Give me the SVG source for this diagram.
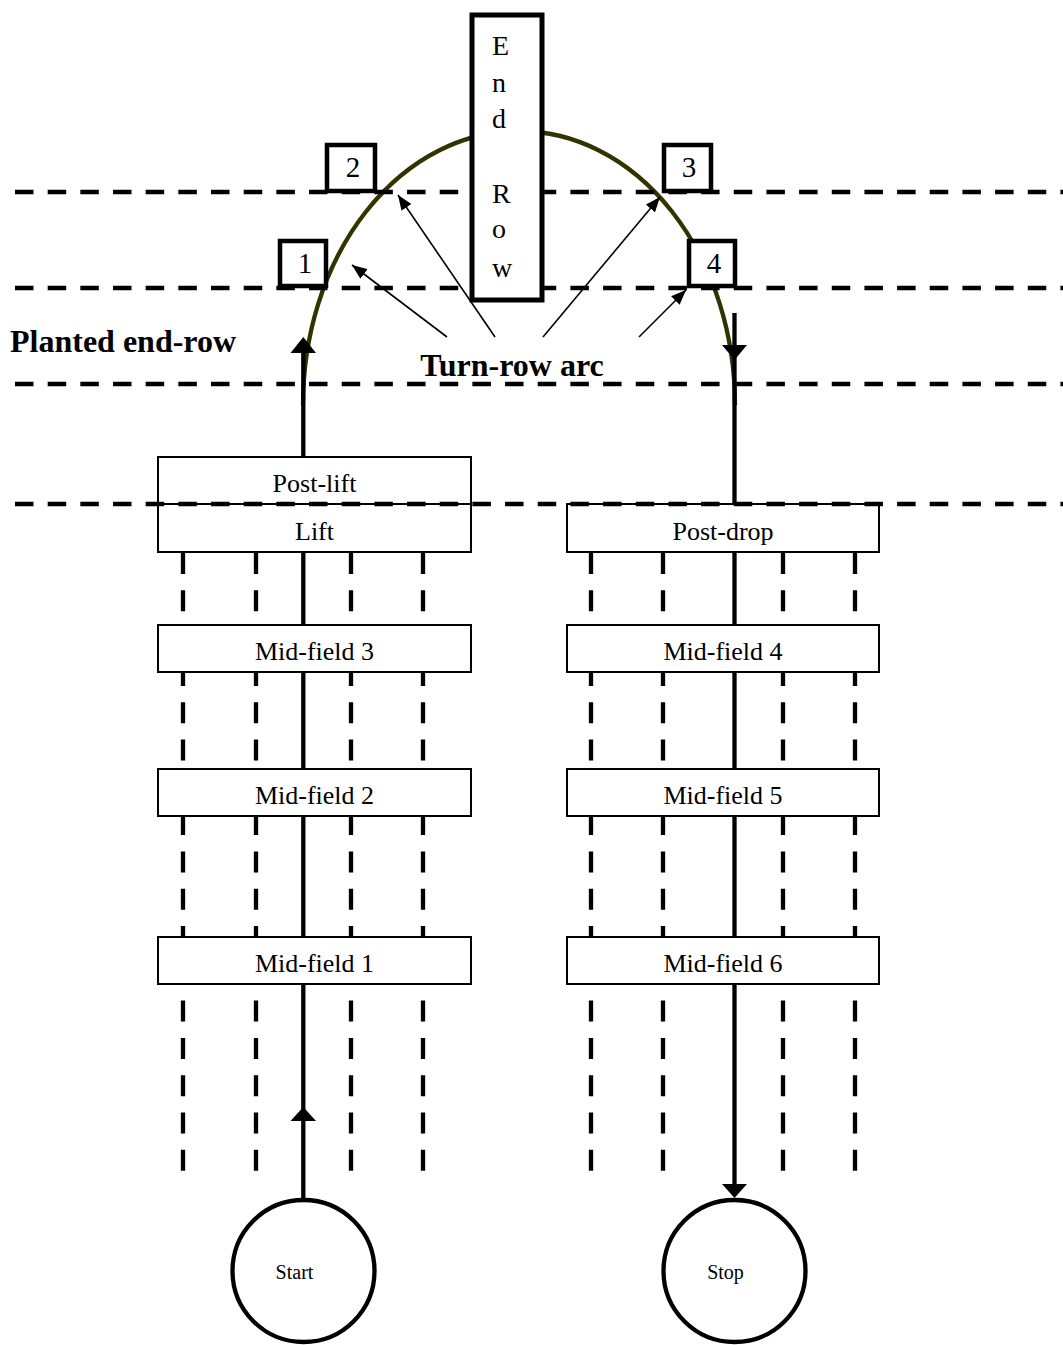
<svg xmlns="http://www.w3.org/2000/svg" width="1063" height="1345" viewBox="0 0 1063 1345">
<style>
.vd{stroke:#000;stroke-width:4.3;stroke-dasharray:21 16.3;fill:none}
.hd{stroke:#000;stroke-width:4.3;stroke-dasharray:18.5 14.17;fill:none}
.box{fill:#fff;stroke:#000;stroke-width:2}
.nbox{fill:#fff;stroke:#000;stroke-width:4.5}
.main{stroke:#000;stroke-width:4.3;fill:none}
.head{fill:#000}
.ptr{stroke:#000;stroke-width:1.6;fill:none;marker-end:url(#ah)}
.arc{stroke:#333300;stroke-width:4.3;fill:none}
.lbl{font-family:"Liberation Serif","Times New Roman",serif;font-size:26px;fill:#000;text-anchor:middle}
.num{font-family:"Liberation Serif","Times New Roman",serif;font-size:29px;fill:#000;text-anchor:middle}
.er{font-family:"Liberation Serif","Times New Roman",serif;font-size:28px;fill:#000}
.big{font-family:"Liberation Serif","Times New Roman",serif;font-size:32px;font-weight:bold;fill:#000}
.small{font-family:"Liberation Serif","Times New Roman",serif;font-size:20px;fill:#000;text-anchor:middle}
</style>
<defs>
<marker id="ah" markerUnits="userSpaceOnUse" markerWidth="16" markerHeight="12" refX="15" refY="6" orient="auto">
<path d="M0,0 L15,6 L0,12 z" fill="#000"/>
</marker>
</defs>
<rect width="1063" height="1345" fill="#fff"/>
<g id="field-rows">
<line class="vd" x1="183" y1="553" x2="183" y2="1172"/>
<line class="vd" x1="256" y1="553" x2="256" y2="1172"/>
<line class="vd" x1="351" y1="553" x2="351" y2="1172"/>
<line class="vd" x1="423" y1="553" x2="423" y2="1172"/>
<line class="vd" x1="591" y1="553" x2="591" y2="1172"/>
<line class="vd" x1="663" y1="553" x2="663" y2="1172"/>
<line class="vd" x1="783" y1="553" x2="783" y2="1172"/>
<line class="vd" x1="855" y1="553" x2="855" y2="1172"/>
</g>
<g id="connectors">
<path class="arc" d="M303,405 A216,274 0 0 1 735,405"/>
<line class="main" x1="303.3" y1="1199" x2="303.3" y2="350"/>
<polygon class="head" points="303.3,337 290.5,353 316,353"/>
<polygon class="head" points="303.3,1107 290.5,1121 316,1121"/>
<line class="main" x1="734.5" y1="313" x2="734.5" y2="1186"/>
<polygon class="head" points="734.5,360 722,345 747,345"/>
<polygon class="head" points="734.5,1198 722,1184 747,1184"/>
<line class="ptr" x1="447" y1="337" x2="352" y2="265"/>
<line class="ptr" x1="495" y1="337" x2="398" y2="195"/>
<line class="ptr" x1="543" y1="337" x2="660" y2="197"/>
<line class="ptr" x1="639" y1="337" x2="686" y2="290"/>
</g>
<g id="post-lift"><rect class="box" x="158" y="457" width="313" height="47"/><text class="lbl" x="314.5" y="491.5">Post-lift</text></g>
<g id="lift"><rect class="box" x="158" y="504" width="313" height="48"/><text class="lbl" x="314.5" y="540">Lift</text></g>
<g id="mid-field-3"><rect class="box" x="158" y="625" width="313" height="47"/><text class="lbl" x="314.5" y="660">Mid-field 3</text></g>
<g id="mid-field-2"><rect class="box" x="158" y="769" width="313" height="47"/><text class="lbl" x="314.5" y="804">Mid-field 2</text></g>
<g id="mid-field-1"><rect class="box" x="158" y="937" width="313" height="47"/><text class="lbl" x="314.5" y="972">Mid-field 1</text></g>
<g id="post-drop"><rect class="box" x="567" y="504" width="312" height="48"/><text class="lbl" x="723" y="540">Post-drop</text></g>
<g id="mid-field-4"><rect class="box" x="567" y="625" width="312" height="47"/><text class="lbl" x="723" y="660">Mid-field 4</text></g>
<g id="mid-field-5"><rect class="box" x="567" y="769" width="312" height="47"/><text class="lbl" x="723" y="804">Mid-field 5</text></g>
<g id="mid-field-6"><rect class="box" x="567" y="937" width="312" height="47"/><text class="lbl" x="723" y="972">Mid-field 6</text></g>
<g id="start"><circle cx="303.5" cy="1271" r="71" fill="#fff" stroke="#000" stroke-width="4.3"/><text class="small" x="294.5" y="1279">Start</text></g>
<g id="stop"><circle cx="734.5" cy="1271" r="71" fill="#fff" stroke="#000" stroke-width="4.3"/><text class="small" x="725.5" y="1279">Stop</text></g>
<g id="headland-lines">
<line class="hd" x1="15" y1="192" x2="1063" y2="192"/>
<line class="hd" x1="15" y1="288" x2="1063" y2="288"/>
<line class="hd" x1="15" y1="384" x2="1063" y2="384"/>
<line class="hd" x1="15" y1="504" x2="1063" y2="504"/>
</g>
<g id="end-row"><rect x="472" y="15" width="70" height="285" fill="#fff" stroke="#000" stroke-width="5"/>
<text class="er" x="492" y="55">E</text>
<text class="er" x="492" y="92">n</text>
<text class="er" x="492" y="128">d</text>
<text class="er" x="492" y="203">R</text>
<text class="er" x="492" y="238">o</text>
<text class="er" x="492" y="277">w</text>
</g>
<g id="point-1"><rect class="nbox" x="280" y="241" width="46" height="45"/><text class="num" x="305" y="273">1</text></g>
<g id="point-2"><rect class="nbox" x="327" y="145" width="48" height="46"/><text class="num" x="353" y="177">2</text></g>
<g id="point-3"><rect class="nbox" x="664" y="145" width="47" height="46"/><text class="num" x="689" y="177">3</text></g>
<g id="point-4"><rect class="nbox" x="689" y="241" width="46" height="45"/><text class="num" x="714" y="273">4</text></g>
<g id="labels">
<text class="big" x="10" y="352">Planted end-row</text>
<text class="big" x="512" y="376" text-anchor="middle">Turn-row arc</text>
</g>
</svg>
